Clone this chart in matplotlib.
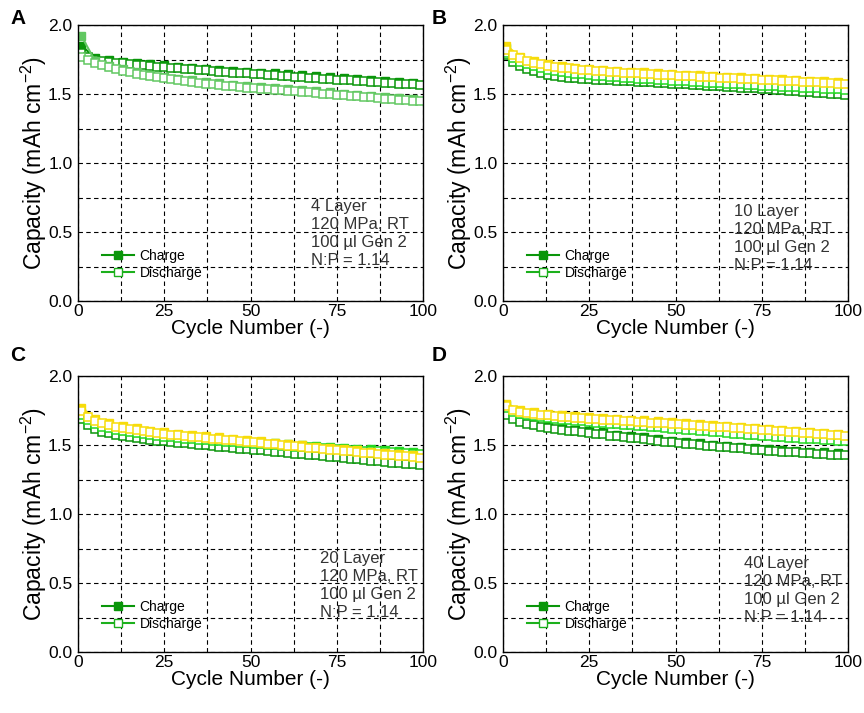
import matplotlib
matplotlib.use("Agg")
import matplotlib.pyplot as plt
from matplotlib.lines import Line2D

plt.rcParams['font.family'] = ['Liberation Sans', 'DejaVu Sans']
plt.rcParams['mathtext.fontset'] = 'custom'
plt.rcParams['mathtext.rm'] = 'Liberation Sans'

# discharge points every 2 cycles, charge points every 4 cycles
cycles_dis = list(range(1, 100, 2))
cycles_chg = list(range(1, 100, 4))

# ---- panel A (4 layer) ----
a_dark_dis = [1.800, 1.765, 1.750, 1.740, 1.733, 1.727, 1.722, 1.717, 1.712, 1.707,
              1.703, 1.699, 1.695, 1.691, 1.687, 1.683, 1.679, 1.675, 1.671, 1.667,
              1.663, 1.659, 1.655, 1.652, 1.649, 1.646, 1.643, 1.640, 1.637, 1.634,
              1.630, 1.626, 1.623, 1.619, 1.616, 1.612, 1.609, 1.605, 1.602, 1.598,
              1.595, 1.592, 1.588, 1.585, 1.582, 1.579, 1.576, 1.573, 1.570, 1.567]
a_dark_chg = [1.850, 1.762, 1.745, 1.734, 1.724, 1.715, 1.707, 1.699, 1.691, 1.683,
              1.675, 1.667, 1.661, 1.655, 1.649, 1.642, 1.635, 1.628, 1.621, 1.614,
              1.607, 1.600, 1.594, 1.588, 1.582]
a_light_dis = [1.770, 1.745, 1.725, 1.708, 1.693, 1.680, 1.668, 1.657, 1.647, 1.638,
               1.629, 1.621, 1.613, 1.606, 1.599, 1.593, 1.587, 1.581, 1.575, 1.570,
               1.565, 1.560, 1.555, 1.551, 1.547, 1.543, 1.539, 1.535, 1.531, 1.527,
               1.523, 1.519, 1.515, 1.511, 1.507, 1.503, 1.499, 1.495, 1.491, 1.487,
               1.483, 1.479, 1.475, 1.471, 1.467, 1.463, 1.459, 1.455, 1.451, 1.447]
a_light_chg = [1.920, 1.737, 1.705, 1.680, 1.659, 1.641, 1.625, 1.611, 1.599, 1.587,
               1.577, 1.567, 1.559, 1.551, 1.543, 1.535, 1.527, 1.519, 1.511, 1.503,
               1.495, 1.487, 1.479, 1.471, 1.463]

# ---- panel B (10 layer) ----
b_dark_dis = [1.780, 1.735, 1.705, 1.683, 1.665, 1.650, 1.638, 1.629, 1.622, 1.617,
              1.613, 1.610, 1.608, 1.605, 1.602, 1.599, 1.597, 1.594, 1.591, 1.589,
              1.586, 1.584, 1.581, 1.579, 1.576, 1.573, 1.570, 1.567, 1.564, 1.561,
              1.558, 1.555, 1.552, 1.549, 1.546, 1.543, 1.540, 1.537, 1.534, 1.531,
              1.527, 1.524, 1.520, 1.517, 1.513, 1.510, 1.506, 1.503, 1.499, 1.496]
b_dark_chg = [1.800, 1.715, 1.675, 1.648, 1.632, 1.623, 1.618, 1.612, 1.607, 1.601,
              1.596, 1.591, 1.586, 1.580, 1.574, 1.568, 1.562, 1.556, 1.550, 1.544,
              1.537, 1.530, 1.523, 1.516, 1.509]
b_green_dis = [1.800, 1.760, 1.735, 1.716, 1.700, 1.687, 1.676, 1.667, 1.660, 1.654,
               1.648, 1.643, 1.638, 1.634, 1.630, 1.626, 1.622, 1.619, 1.615, 1.612,
               1.609, 1.606, 1.603, 1.600, 1.597, 1.594, 1.591, 1.588, 1.585, 1.582,
               1.580, 1.577, 1.574, 1.572, 1.569, 1.566, 1.564, 1.561, 1.559, 1.556,
               1.554, 1.551, 1.549, 1.546, 1.544, 1.541, 1.539, 1.536, 1.534, 1.531]
b_green_chg = [1.830, 1.745, 1.710, 1.686, 1.670, 1.658, 1.648, 1.640, 1.632, 1.625,
               1.619, 1.613, 1.607, 1.601, 1.595, 1.590, 1.584, 1.579, 1.574, 1.569,
               1.564, 1.559, 1.554, 1.549, 1.544]
b_yellow_dis = [1.820, 1.785, 1.760, 1.742, 1.728, 1.716, 1.706, 1.698, 1.691, 1.685,
                1.680, 1.675, 1.671, 1.667, 1.664, 1.661, 1.658, 1.655, 1.652, 1.649,
                1.646, 1.644, 1.641, 1.639, 1.636, 1.634, 1.631, 1.629, 1.626, 1.624,
                1.621, 1.619, 1.616, 1.614, 1.611, 1.609, 1.606, 1.604, 1.601, 1.599,
                1.596, 1.594, 1.591, 1.589, 1.586, 1.584, 1.581, 1.579, 1.576, 1.574]
b_yellow_chg = [1.850, 1.770, 1.738, 1.716, 1.701, 1.690, 1.681, 1.674, 1.668, 1.662,
                1.656, 1.651, 1.646, 1.641, 1.636, 1.631, 1.626, 1.621, 1.616, 1.611,
                1.606, 1.601, 1.596, 1.591, 1.586]

# ---- panel C (20 layer) ----
c_dark_dis = [1.690, 1.645, 1.615, 1.597, 1.585, 1.575, 1.566, 1.558, 1.551, 1.544,
              1.538, 1.532, 1.527, 1.522, 1.517, 1.512, 1.507, 1.502, 1.498, 1.494,
              1.488, 1.483, 1.479, 1.474, 1.470, 1.465, 1.461, 1.456, 1.452, 1.447,
              1.442, 1.438, 1.433, 1.429, 1.424, 1.419, 1.415, 1.410, 1.406, 1.401,
              1.396, 1.392, 1.387, 1.383, 1.378, 1.373, 1.369, 1.364, 1.360, 1.355]
c_dark_chg = [1.700, 1.627, 1.597, 1.578, 1.563, 1.550, 1.539, 1.529, 1.519, 1.510,
              1.500, 1.491, 1.482, 1.473, 1.464, 1.454, 1.445, 1.436, 1.427, 1.418,
              1.408, 1.399, 1.390, 1.381, 1.372]
c_green_dis = [1.720, 1.680, 1.652, 1.634, 1.620, 1.609, 1.600, 1.592, 1.585, 1.578,
               1.572, 1.566, 1.561, 1.556, 1.551, 1.547, 1.543, 1.539, 1.535, 1.531,
               1.527, 1.523, 1.520, 1.516, 1.512, 1.509, 1.505, 1.502, 1.499, 1.495,
               1.492, 1.489, 1.486, 1.483, 1.480, 1.477, 1.474, 1.471, 1.468, 1.465,
               1.462, 1.459, 1.456, 1.453, 1.450, 1.447, 1.444, 1.441, 1.438, 1.435]
c_green_chg = [1.735, 1.664, 1.632, 1.612, 1.597, 1.584, 1.573, 1.563, 1.555, 1.547,
               1.539, 1.532, 1.524, 1.517, 1.511, 1.504, 1.498, 1.492, 1.486, 1.480,
               1.474, 1.468, 1.462, 1.456, 1.450]
c_yellow_dis = [1.750, 1.705, 1.675, 1.657, 1.644, 1.634, 1.625, 1.616, 1.608, 1.600,
                1.593, 1.587, 1.581, 1.576, 1.571, 1.566, 1.561, 1.556, 1.551, 1.547,
                1.543, 1.538, 1.534, 1.529, 1.525, 1.519, 1.514, 1.509, 1.505, 1.500,
                1.495, 1.491, 1.486, 1.481, 1.477, 1.472, 1.467, 1.463, 1.458, 1.453,
                1.449, 1.444, 1.439, 1.435, 1.430, 1.426, 1.421, 1.417, 1.412, 1.408]
c_yellow_chg = [1.770, 1.687, 1.656, 1.637, 1.620, 1.605, 1.593, 1.583, 1.573, 1.563,
                1.555, 1.546, 1.537, 1.526, 1.517, 1.507, 1.498, 1.489, 1.479, 1.470,
                1.461, 1.451, 1.442, 1.433, 1.424]

# ---- panel D (40 layer) ----
d_dark_dis = [1.720, 1.690, 1.670, 1.655, 1.643, 1.633, 1.625, 1.617, 1.610, 1.604,
              1.598, 1.593, 1.588, 1.583, 1.579, 1.568, 1.563, 1.558, 1.553, 1.548,
              1.543, 1.537, 1.531, 1.525, 1.520, 1.512, 1.508, 1.504, 1.499, 1.495,
              1.491, 1.487, 1.483, 1.479, 1.475, 1.471, 1.467, 1.463, 1.459, 1.456,
              1.452, 1.449, 1.446, 1.443, 1.440, 1.437, 1.434, 1.431, 1.428, 1.425]
d_dark_chg = [1.730, 1.682, 1.655, 1.637, 1.622, 1.610, 1.600, 1.591, 1.575, 1.565,
              1.555, 1.543, 1.532, 1.520, 1.511, 1.503, 1.495, 1.487, 1.479, 1.471,
              1.464, 1.458, 1.452, 1.446, 1.440]
d_green_dis = [1.770, 1.740, 1.725, 1.715, 1.707, 1.700, 1.694, 1.689, 1.684, 1.679,
               1.675, 1.671, 1.667, 1.663, 1.659, 1.655, 1.651, 1.647, 1.643, 1.639,
               1.635, 1.631, 1.627, 1.623, 1.619, 1.615, 1.611, 1.607, 1.603, 1.599,
               1.595, 1.591, 1.587, 1.583, 1.579, 1.575, 1.571, 1.567, 1.563, 1.559,
               1.556, 1.553, 1.550, 1.547, 1.544, 1.541, 1.538, 1.535, 1.532, 1.529]
d_green_chg = [1.790, 1.737, 1.719, 1.706, 1.696, 1.687, 1.679, 1.671, 1.663, 1.655,
               1.647, 1.639, 1.631, 1.623, 1.615, 1.607, 1.599, 1.591, 1.583, 1.575,
               1.568, 1.562, 1.556, 1.550, 1.544]
d_yellow_dis = [1.780, 1.755, 1.742, 1.733, 1.726, 1.720, 1.715, 1.710, 1.706, 1.702,
                1.698, 1.694, 1.690, 1.687, 1.684, 1.681, 1.678, 1.675, 1.672, 1.669,
                1.666, 1.663, 1.660, 1.657, 1.654, 1.651, 1.648, 1.645, 1.641, 1.638,
                1.634, 1.631, 1.627, 1.624, 1.620, 1.617, 1.613, 1.610, 1.606, 1.603,
                1.598, 1.594, 1.591, 1.587, 1.584, 1.580, 1.577, 1.573, 1.570, 1.566]
d_yellow_chg = [1.800, 1.754, 1.738, 1.727, 1.718, 1.710, 1.702, 1.696, 1.690, 1.684,
                1.678, 1.672, 1.666, 1.660, 1.653, 1.646, 1.639, 1.632, 1.625, 1.618,
                1.610, 1.603, 1.596, 1.589, 1.582]

DARK = '#0a960a'
LIGHT = '#62c862'
GREEN = '#22d822'
YELLOW = '#f7dc0a'

panels = [
    ('A', '4 Layer', [(DARK, a_dark_chg, a_dark_dis), (LIGHT, a_light_chg, a_light_dis)]),
    ('B', '10 Layer', [(DARK, b_dark_chg, b_dark_dis), (GREEN, b_green_chg, b_green_dis),
                       (YELLOW, b_yellow_chg, b_yellow_dis)]),
    ('C', '20 Layer', [(DARK, c_dark_chg, c_dark_dis), (GREEN, c_green_chg, c_green_dis),
                       (YELLOW, c_yellow_chg, c_yellow_dis)]),
    ('D', '40 Layer', [(DARK, d_dark_chg, d_dark_dis), (GREEN, d_green_chg, d_green_dis),
                       (YELLOW, d_yellow_chg, d_yellow_dis)]),
]

W, H = 864, 713
fig = plt.figure(figsize=(W / 100, H / 100), dpi=100)

# axes boxes in pixels: left, top, right, bottom
boxes = [(78, 25, 423, 301), (503, 25, 848, 301), (78, 376, 423, 652), (503, 376, 848, 652)]
letter_pos = [(10, 18), (432, 18), (10, 355), (432, 355)]
text_pos = [(67.5, 0.74), (67.0, 0.70), (70.0, 0.73), (70.0, 0.695)]

for (letter, layer, series), (l, t, r, b), (lx, ly), (tx, ty) in zip(panels, boxes, letter_pos, text_pos):
    ax = fig.add_axes([l / W, 1 - b / H, (r - l) / W, (b - t) / H])
    for color, chg, dis in series:
        ax.plot(cycles_chg, chg, color=color, lw=1.5, marker='s', ms=5.2,
                mfc=color, mec=color, mew=1, zorder=3)
        ax.plot(cycles_dis, dis, color=color, lw=1.5, marker='s', ms=5.2,
                mfc='white', mec=color, mew=1.1, zorder=3)

    ax.set_xlim(0, 100)
    ax.set_ylim(0, 2.0)
    ax.set_xticks([0, 25, 50, 75, 100])
    ax.set_yticks([0.0, 0.5, 1.0, 1.5, 2.0])
    ax.set_yticklabels(['0.0', '0.5', '1.0', '1.5', '2.0'])
    ax.set_xticks([12.5 * i for i in range(9)], minor=True)
    ax.set_yticks([0.25 * i for i in range(9)], minor=True)
    ax.grid(True, which='both', color='black', ls=(0, (4, 3)), lw=0.8, zorder=0)
    ax.tick_params(which='both', direction='in', length=0, labelsize=12.5)
    ax.tick_params(axis='x', pad=2)
    ax.tick_params(axis='y', pad=4)
    for sp in ax.spines.values():
        sp.set_linewidth(1.0)
        sp.set_zorder(4)
    ax.set_xlabel('Cycle Number (-)', fontsize=15, labelpad=0)
    ax.set_ylabel('Capacity (mAh cm$^{\\mathregular{-2}}$)', fontsize=16.5, labelpad=-1)

    ax.text(tx, ty, layer + '\n120 MPa, RT\n100 \u00b5l Gen 2\nN:P = 1.14',
            fontsize=12, color='#333333', va='top', ha='left', linespacing=1.25)

    handles = [Line2D([], [], color=DARK, lw=1.5, marker='s', ms=6, mfc=DARK, mec=DARK),
               Line2D([], [], color='#1cb01c', lw=1.5, marker='s', ms=6, mfc='white', mec='#1cb01c')]
    ax.legend(handles, ['Charge', 'Discharge'], loc='lower left', bbox_to_anchor=(0.07, 0.075),
              frameon=False, fontsize=10, handlelength=2.3, handletextpad=0.4,
              labelspacing=0.25, borderpad=0, borderaxespad=0)

    fig.text(lx / W, 1 - ly / H, letter, fontsize=15, fontweight='bold', va='center', ha='left')

fig.savefig('out.png', dpi=100)
